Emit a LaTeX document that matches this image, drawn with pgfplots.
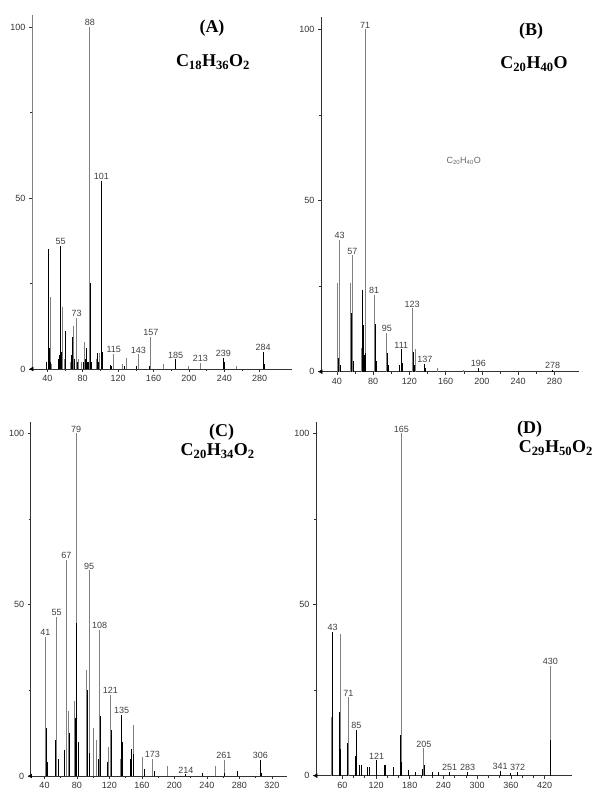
\documentclass[border=0pt]{standalone}
\usepackage{fontspec}
\setmainfont{Liberation Serif}
\newfontfamily\lab{Liberation Sans}
\usepackage{pgfplots}
\pgfplotsset{compat=1.18}
\definecolor{pk}{gray}{0.5}
\definecolor{ax}{gray}{0.2}
\pgfplotsset{
 msaxis/.style={
  scale only axis,
  axis x line=bottom, axis y line=left,
  axis line style={-, ax, line width=0.9pt},
  ymin=0,
  ytick={0,50,100}, minor ytick={25,75},
  tick align=outside,
  major tick length=3pt, minor tick length=2pt,
  tick style={ax, line width=0.6pt},
  ticklabel style={font=\lab\fontsize{9}{10}\selectfont, text=black!80},
  /pgf/number format/assume math mode=true,
  minor x tick num=1,
  clip=false,
 },
 gp/.style={ycomb, no markers, color=pk, line width=0.8pt},
 bp/.style={ycomb, no markers, color=black, line width=1.0pt},
 ori/.style={only marks, mark=triangle*, mark size=2.2pt, mark options={rotate=90, fill=black}, black},
}
\tikzset{pl/.style={font=\lab\fontsize{9}{10}\selectfont, text=black!75, above, inner sep=1pt}}
\newcommand{\ttl}{\bfseries\fontsize{18}{20}\selectfont}
\begin{document}
\begin{tikzpicture}
\useasboundingbox (0,0) rectangle (594pt,790pt);
% ---------------- (A)
\begin{axis}[msaxis, at={(32pt,421pt)}, anchor=south west, width=260pt, height=354pt,
  xmin=22.7, xmax=316.5, ymax=103.5, xtick={40,80,...,280}, axis y line*=left, y axis line style={pk}]
\addplot[gp] coordinates {(43,21) (45,1.5) (57,18) (59,3) (66,2) (70,12.6) (73,15) (75,3) (78,2) (82,8) (86,2) (88,100) (95,3) (99,4.7) (115,4.4) (125,1.5) (129,3.3) (143,4.3) (157,9.5) (171,1.6) (199,1) (213,1.8) (254,1)};
\addplot[bp] coordinates {(39,2) (41,35) (42,6) (44,2) (53,3) (54,4) (55,36) (56,5) (60,11) (61,3) (67,4) (68,3) (69,9.5) (71,3) (74,2) (81,2) (83,3) (84,6) (85,2) (87,2) (89,25) (90,2) (97,4.7) (98,2) (101,55) (102,5) (111,1.2) (113,1) (127,1) (141,1) (155,1) (185,2.8) (239,3.3) (240,2) (284,4.9) (285,1.5)};
\addplot[ori] coordinates {(22.7,0)};
\node[pl] at (axis cs:55,36) {55};
\node[pl] at (axis cs:73,15) {73};
\node[pl] at (axis cs:88,100) {88};
\node[pl] at (axis cs:101,55) {101};
\node[pl] at (axis cs:115,4.4) {115};
\node[pl] at (axis cs:143,4.3) {143};
\node[pl] at (axis cs:157,9.5) {157};
\node[pl] at (axis cs:185,2.8) {185};
\node[pl] at (axis cs:213,1.8) {213};
\node[pl] at (axis cs:239,3.3) {239};
\node[pl] at (axis cs:284,4.9) {284};
\end{axis}
% ---------------- (B)
\begin{axis}[msaxis, at={(321pt,418.3pt)}, anchor=south west, width=257.7pt, height=355pt,
  xmin=22.4, xmax=306.7, ymax=103.7, xtick={40,80,...,280}]
\addplot[gp] coordinates {(41,26) (43,38.5) (55,26) (57,34) (67,6.8) (71,100) (81,22.4) (95,11.4) (123,18.5) (126,6.5) (151,1) (179,0.6)};
\addplot[bp] coordinates {(42,4) (44,2) (56,17) (58,3) (68,24) (69,13.6) (70,5) (72,5.5) (82,13.8) (83,8.8) (84,3) (96,5.5) (97,2) (109,2) (111,6.5) (112,2.4) (124,5.8) (125,2) (137,2.2) (138,1) (196,1) (278,0.5)};
\addplot[ori] coordinates {(22.4,0)};
\node[pl] at (axis cs:43,38.5) {43};
\node[pl] at (axis cs:57,34) {57};
\node[pl] at (axis cs:71,100) {71};
\node[pl] at (axis cs:81,22.4) {81};
\node[pl] at (axis cs:95,11.4) {95};
\node[pl] at (axis cs:111,6.5) {111};
\node[pl] at (axis cs:123,18.5) {123};
\node[pl] at (axis cs:137,2.2) {137};
\node[pl] at (axis cs:196,1) {196};
\node[pl] at (axis cs:278,0.5) {278};
\end{axis}
% ---------------- (C)
\begin{axis}[msaxis, at={(30.7pt,14pt)}, anchor=south west, width=256pt, height=354.3pt,
  xmin=23, xmax=338.3, ymax=103.4, xtick={40,80,...,320}]
\addplot[gp] coordinates {(41,40.6) (55,46.5) (67,63) (69,19) (77,22) (79,100) (91,31) (95,60) (100,14) (104,10.5) (108,42.6) (119,8.5) (121,23.6) (133,5) (149,15) (161,5.6) (173,4.9) (191,3) (250,3) (261,4.6)};
\addplot[bp] coordinates {(43,13.9) (44,4) (53,10.5) (57,5) (65,7.6) (71,12.5) (78,17) (80,44.6) (82,10) (93,25) (96,6.7) (106,5) (109,17.5) (117,4) (122,13.4) (135,17.8) (136,10) (146,5) (147,8) (150,6.5) (163,2) (175,1.5) (214,0.5) (235,1) (262,1) (278,1.5) (306,4.6) (307,1)};
\addplot[ori] coordinates {(23,0)};
\node[pl] at (axis cs:41,40.6) {41};
\node[pl] at (axis cs:55,46.5) {55};
\node[pl] at (axis cs:67,63) {67};
\node[pl] at (axis cs:79,100) {79};
\node[pl] at (axis cs:95,60) {95};
\node[pl] at (axis cs:108,42.6) {108};
\node[pl] at (axis cs:121,23.6) {121};
\node[pl] at (axis cs:135,17.8) {135};
\node[pl] at (axis cs:173,4.9) {173};
\node[pl] at (axis cs:214,0.5) {214};
\node[pl] at (axis cs:261,4.6) {261};
\node[pl] at (axis cs:306,4.6) {306};
\end{axis}
% ---------------- (D)
\begin{axis}[msaxis, at={(316pt,14.3pt)}, anchor=south west, width=256pt, height=354pt,
  xmin=13.2, xmax=468.7, ymax=103.4, xtick={60,120,...,420}, minor x tick num=2]
\addplot[gp] coordinates {(41,17) (57,41.4) (71,22.9) (165,100) (205,8) (430,32)};
\addplot[bp] coordinates {(43,42) (55,18.7) (56,7.7) (69,9.6) (83,5.7) (85,13.3) (91,3) (95,3) (105,2.6) (109,2.6) (121,4.5) (135,3) (137,3) (151,2.6) (164,11.9) (166,4) (177,1.6) (190,1) (203,2) (206,3) (220,1) (231,1) (251,1) (283,1) (341,1.5) (360,0.8) (372,1) (431,10.4)};
\addplot[ori] coordinates {(13.2,0)};
\node[pl] at (axis cs:43,42) {43};
\node[pl] at (axis cs:71,22.9) {71};
\node[pl] at (axis cs:85,13.3) {85};
\node[pl] at (axis cs:121,4.5) {121};
\node[pl] at (axis cs:165,100) {165};
\node[pl] at (axis cs:205,8) {205};
\node[pl] at (axis cs:251,1) {251};
\node[pl] at (axis cs:283,1) {283};
\node[pl] at (axis cs:341,1.5) {341};
\node[pl] at (axis cs:372,1) {372};
\node[pl] at (axis cs:430,32) {430};
\end{axis}
% ---------------- titles
\node[font=\ttl] at (212pt,762pt) {(A)};
\node[font=\ttl] at (213pt,728pt) {C\textsubscript{18}H\textsubscript{36}O\textsubscript{2}};
\node[font=\ttl] at (531pt,759pt) {(B)};
\node[font=\ttl] at (534pt,726pt) {C\textsubscript{20}H\textsubscript{40}O};
\node[font=\lab\fontsize{9}{10}\selectfont, text=black!60] at (463.7pt,629pt) {C\textsubscript{20}H\textsubscript{40}O};
\node[font=\ttl, inner sep=0pt] at (221.7pt,358pt) {(C)};
\node[font=\ttl, inner sep=0pt] at (217.7pt,339pt) {C\textsubscript{20}H\textsubscript{34}O\textsubscript{2}};
\node[font=\ttl, anchor=west, inner sep=0pt] at (517pt,361pt) {(D)};
\node[font=\ttl, anchor=west, inner sep=0pt] at (518.7pt,342pt) {C\textsubscript{29}H\textsubscript{50}O\textsubscript{2}};
\end{tikzpicture}
\end{document}
